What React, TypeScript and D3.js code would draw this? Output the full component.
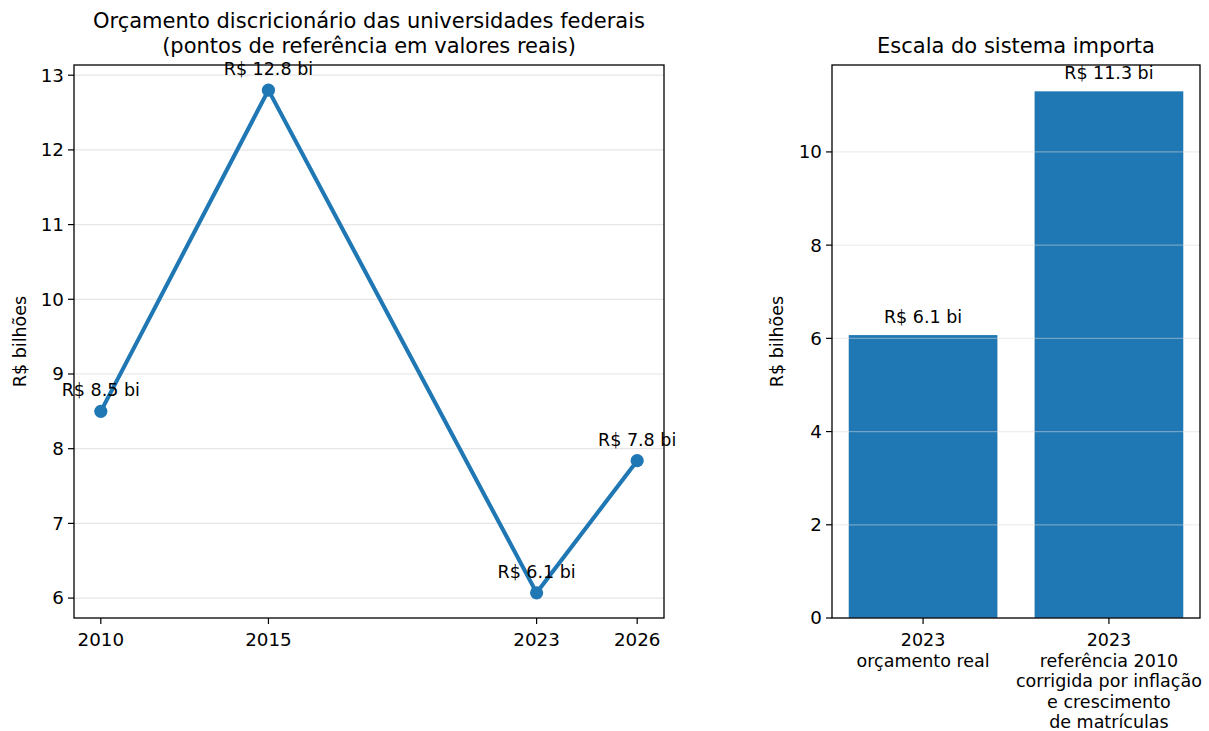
import React from 'react';
import * as d3 from 'd3';

// valores
const years = [2010, 2015, 2023, 2026];
const budget = [8.5, 12.8, 6.07, 7.84];
const budgetLabels = ['R$ 8.5 bi', 'R$ 12.8 bi', 'R$ 6.1 bi', 'R$ 7.8 bi'];
const yTicksLeft = [6, 7, 8, 9, 10, 11, 12, 13];

const barCats = [
  ['2023', 'orçamento real'],
  ['2023', 'referência 2010', 'corrigida por inflação', 'e crescimento', 'de matrículas'],
];
const barValues = [6.07, 11.3];
const barLabels = ['R$ 6.1 bi', 'R$ 11.3 bi'];
const yTicksRight = [0, 2, 4, 6, 8, 10];

const BLUE = '#1f77b4';
const FONT = 'DejaVu Sans, sans-serif';

const App = () => {
  // painel esquerdo
  const L = { left: 74, right: 664, top: 65, bottom: 618 };
  const x = d3.scaleLinear().domain([2009.2, 2026.8]).range([L.left, L.right]);
  const y = d3.scaleLinear().domain([5.7335, 13.1365]).range([L.bottom, L.top]);
  const line = d3.line<number>()
    .x((_, i) => x(years[i]))
    .y((d) => y(d));

  // painel direito
  const R = { left: 832, right: 1200, top: 65, bottom: 618 };
  const xb = d3.scaleLinear().domain([-0.49, 1.49]).range([R.left, R.right]);
  const yb = d3.scaleLinear().domain([0, 11.865]).range([R.bottom, R.top]);

  return (
    <svg width={1209} height={731} style={{ position: 'absolute', left: 0, top: 0 }} fontFamily={FONT}>
      <rect width={1209} height={731} fill="white" />

      {/* ---- esquerda ---- */}
      {yTicksLeft.map((t) => (
        <g key={t}>
          <line x1={L.left} x2={L.right} y1={y(t)} y2={y(t)} stroke="#e6e6e6" strokeWidth={1.2} />
          <line x1={L.left - 6} x2={L.left} y1={y(t)} y2={y(t)} stroke="black" strokeWidth={1.2} />
          <text x={L.left - 10} y={y(t)} dy="0.35em" textAnchor="end" fontSize={18.3}>{t}</text>
        </g>
      ))}
      {years.map((t) => (
        <g key={t}>
          <line x1={x(t)} x2={x(t)} y1={L.bottom} y2={L.bottom + 6} stroke="black" strokeWidth={1.2} />
          <text x={x(t)} y={646} textAnchor="middle" fontSize={18.3}>{t}</text>
        </g>
      ))}
      <path d={line(budget) || ''} fill="none" stroke={BLUE} strokeWidth={4.1} strokeLinejoin="round" />
      {budget.map((v, i) => (
        <g key={i}>
          <circle cx={x(years[i])} cy={y(v)} r={6.6} fill={BLUE} />
          <text x={x(years[i])} y={y(v) - 15} textAnchor="middle" fontSize={17.5}>{budgetLabels[i]}</text>
        </g>
      ))}
      <rect x={L.left} y={L.top} width={L.right - L.left} height={L.bottom - L.top} fill="none" stroke="black" strokeWidth={1.3} />
      <text x={(L.left + L.right) / 2} y={28} textAnchor="middle" fontSize={21}>Orçamento discricionário das universidades federais</text>
      <text x={(L.left + L.right) / 2} y={53} textAnchor="middle" fontSize={21}>(pontos de referência em valores reais)</text>
      <text transform={`translate(26,${(L.top + L.bottom) / 2}) rotate(-90)`} textAnchor="middle" fontSize={17.5}>R$ bilhões</text>

      {/* ---- direita ---- */}
      {barValues.map((v, i) => (
        <g key={i}>
          <rect x={xb(i - 0.4)} y={yb(v)} width={xb(0.8) - xb(0)} height={yb(0) - yb(v)} fill={BLUE} />
          <text x={xb(i)} y={yb(v) - 12} textAnchor="middle" fontSize={17.5}>{barLabels[i]}</text>
        </g>
      ))}
      {yTicksRight.map((t) => (
        <g key={t}>
          <line x1={R.left} x2={R.right} y1={yb(t)} y2={yb(t)} stroke="#d9d9d9" strokeOpacity={0.45} strokeWidth={1.2} />
          <line x1={R.left - 6} x2={R.left} y1={yb(t)} y2={yb(t)} stroke="black" strokeWidth={1.2} />
          <text x={R.left - 10} y={yb(t)} dy="0.35em" textAnchor="end" fontSize={18.3}>{t}</text>
        </g>
      ))}
      {barCats.map((lines, i) => (
        <g key={i}>
          <line x1={xb(i)} x2={xb(i)} y1={R.bottom} y2={R.bottom + 6} stroke="black" strokeWidth={1.2} />
          <text x={xb(i)} y={646} textAnchor="middle" fontSize={17.5}>
            {lines.map((s, j) => (
              <tspan key={j} x={xb(i)} dy={j === 0 ? 0 : 20.5}>{s}</tspan>
            ))}
          </text>
        </g>
      ))}
      <rect x={R.left} y={R.top} width={R.right - R.left} height={R.bottom - R.top} fill="none" stroke="black" strokeWidth={1.3} />
      <text x={(R.left + R.right) / 2} y={53} textAnchor="middle" fontSize={21}>Escala do sistema importa</text>
      <text transform={`translate(783,${(R.top + R.bottom) / 2}) rotate(-90)`} textAnchor="middle" fontSize={17.5}>R$ bilhões</text>
    </svg>
  );
};

export default App;
